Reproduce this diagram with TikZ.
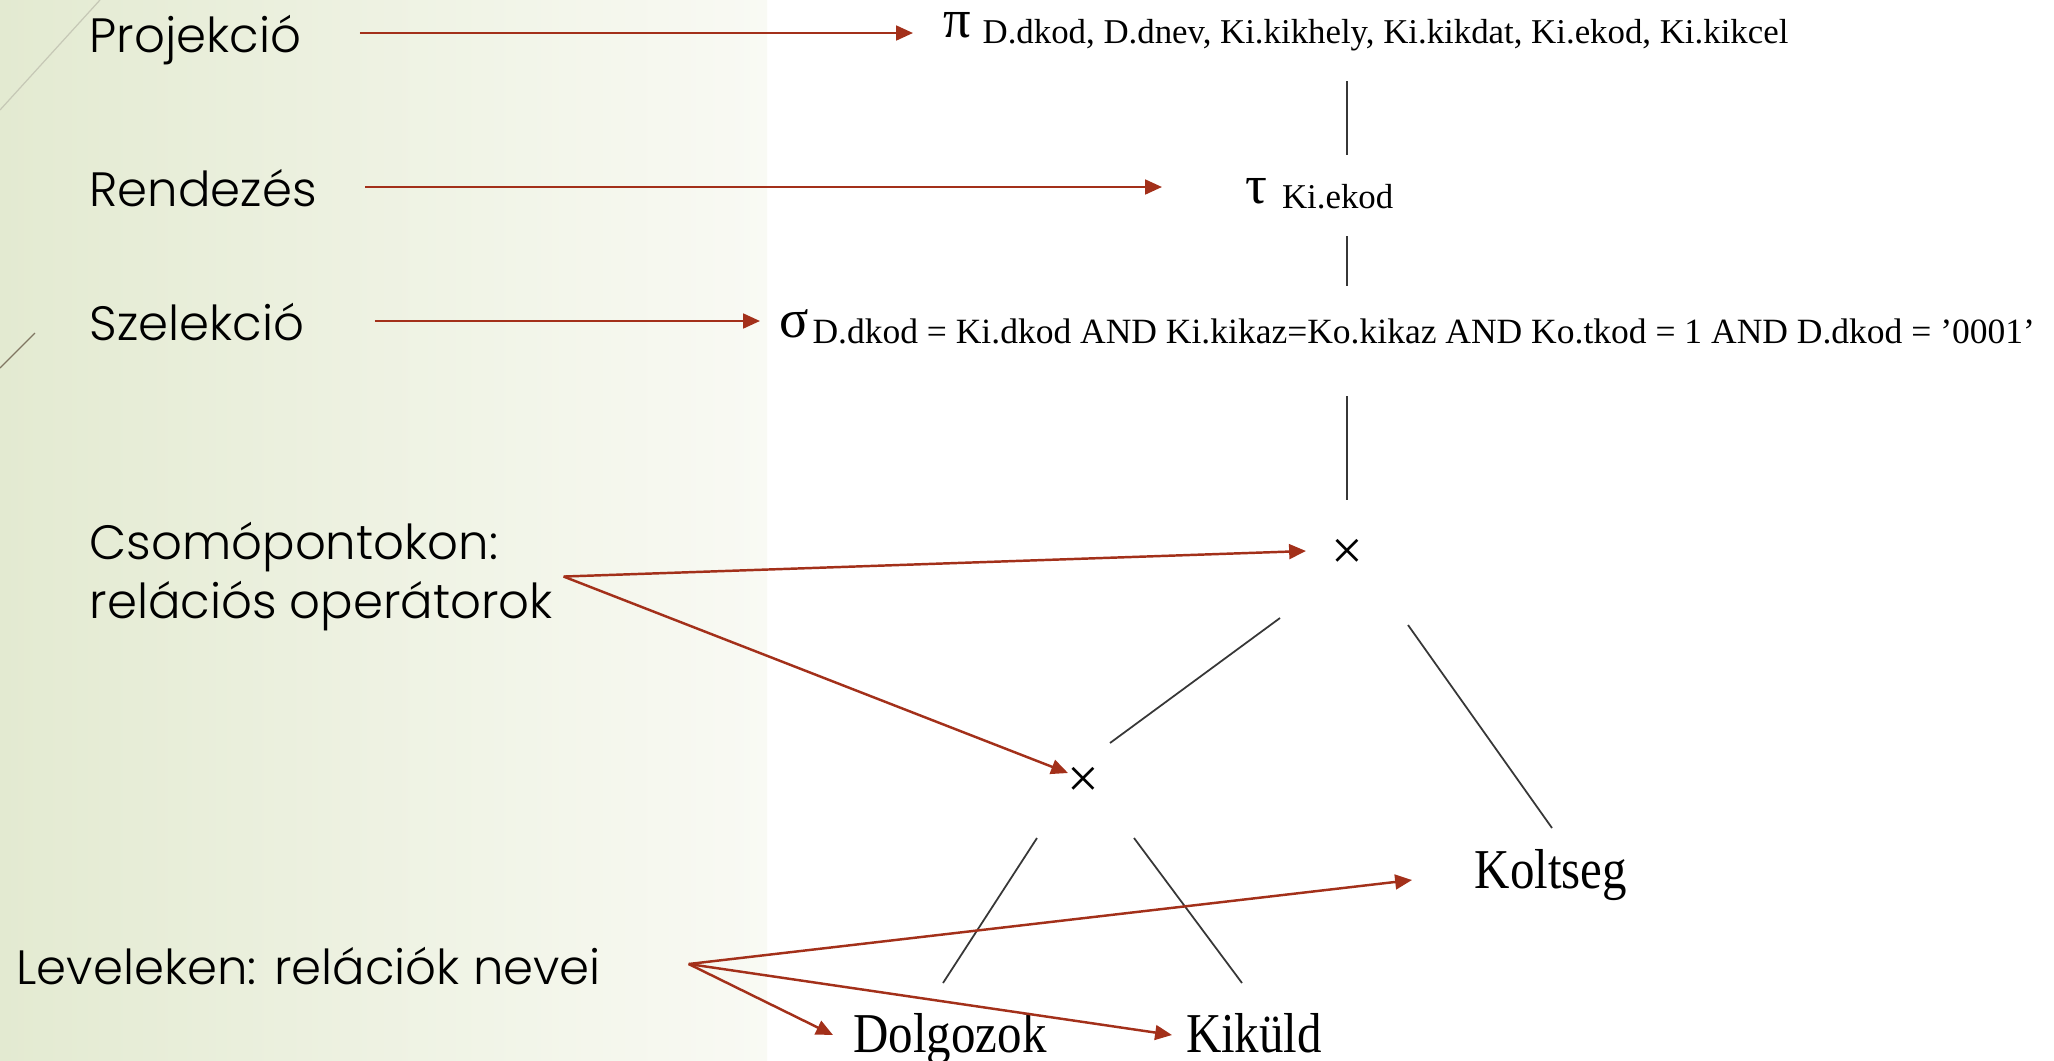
\documentclass[tikz,border=0pt]{standalone}
\usepackage{fontspec}
\usetikzlibrary{arrows.meta,calc}
\IfFontExistsTF{Poppins Light}%
  {\newfontfamily\notefont{Poppins Light}}%
  {\newfontfamily\notefont{Poppins}}
\newfontfamily\relfont[FakeStretch=0.87]{Liberation Serif}
\newfontfamily\serfont{Liberation Serif}
\definecolor{bgleft}{RGB}{227,234,209}
\definecolor{bgright}{RGB}{249,250,244}
\definecolor{hintred}{RGB}{163,48,26}
\definecolor{treegray}{RGB}{55,55,55}
\tikzset{%
  note/.style={
    font=\notefont\fontsize{13.7}{16.5}\selectfont,
    inner sep=0pt,
    anchor=base west,
    align=left
  },
  opsym/.style={
    font=\serfont\fontsize{15.5}{15.5}\selectfont,
    inner sep=0pt,
    text height=1.1ex,
    anchor=base west
  },
  opsub/.style={
    font=\serfont\fontsize{9.9}{10}\selectfont,
    inner sep=0pt,
    anchor=base west
  },
  cross/.style={
    font=\serfont\fontsize{16}{16}\selectfont,
    inner sep=0pt
  },
  relname/.style={
    font=\relfont\fontsize{16}{16}\selectfont,
    inner sep=0pt,
    anchor=base
  },
  treeline/.style={draw=treegray, line width=0.5pt},
  hint/.style={->, draw=hintred, fill=hintred, line width=0.7pt},
  deco/.style={line width=0.35pt},
}

\begin{document}
\begin{tikzpicture}[x=0.01cm, y=-0.01cm, >={Triangle[length=4.8pt,width=4.2pt]}]
\useasboundingbox (0,0) rectangle (2054,1060);
% background
\fill[white] (0,0) rectangle (2054,1060);
\shade[left color=bgleft, right color=bgright] (0,0) rectangle (767,1060);
\draw[deco, draw={rgb,255:red,198;green,200;blue,182}] (100,0) -- (0,110);
\draw[deco, draw={rgb,255:red,128;green,118;blue,98}] (35,333) -- (0,368);

% left side notes
\node[note] (projlbl) at (89,52) {Projekció};
\node[note] (rendlbl) at (89,206) {Rendezés};
\node[note] (szellbl) at (89,340) {Szelekció};
\node[note] (csomlbl) at (89,618) {Csomópontokon:\\relációs operátorok};
\node[note] (levlbl) at (16,984) {Leveleken: relációk nevei};

% operator tree
\node[opsym] (pisym) at (943,37) {π};
\node[opsub] (pisub) at ($(pisym.base east)+(10,6)$) {D.dkod, D.dnev, Ki.kikhely, Ki.kikdat, Ki.ekod, Ki.kikcel};
\node[opsym] (tausym) at (1245,203) {τ};
\node[opsub] (tausub) at ($(tausym.base east)+(13,5)$) {Ki.ekod};
\node[opsym] (sigsym) at (779,337) {σ};
\node[opsub, font=\serfont\fontsize{10.1}{10}\selectfont] (sigsub) at ($(sigsym.base east)+(2,6)$) {D.dkod = Ki.dkod AND Ki.kikaz=Ko.kikaz AND Ko.tkod = 1 AND D.dkod = ’0001’};
\node[cross] (xtop) at (1347,554) {×};
\node[cross] (xlow) at (1083,782) {×};
\node[relname] (koltseg) at (1551,888) {Koltseg};
\node[relname] (dolgozok) at (950,1052) {Dolgozok};
\node[relname] (kikuld) at (1254,1052) {Kiküld};

\draw[treeline] ($(pisym.base -| xtop)+(0,44)$) -- ($(tausym.base -| xtop)+(0,-48)$);
\draw[treeline] ($(tausym.base -| xtop)+(0,33)$) -- ($(sigsym.base -| xtop)+(0,-51)$);
\draw[treeline] ($(sigsym.base -| xtop)+(0,59)$) -- ($(xtop)+(0,-54)$);
\draw[treeline] ($(xtop)+(-67,64)$) -- ($(xlow)+(27,-39)$);
\draw[treeline] ($(xtop)+(61,71)$) -- ($(koltseg.base)+(1,-60)$);
\draw[treeline] ($(xlow)+(-46,56)$) -- ($(dolgozok.base)+(-7,-69)$);
\draw[treeline] ($(xlow)+(51,56)$) -- ($(kikuld.base)+(-12,-69)$);

% arrows from the notes
\draw[hint] ($(projlbl.base east)+(58,-19)$) -- ($(pisym.base west)+(-30,-4)$);
\draw[hint] ($(rendlbl.base east)+(48,-19)$) -- ($(tausym.base west)+(-83,-16)$);
\draw[hint] ($(szellbl.base east)+(70,-19)$) -- ($(sigsym.base west)+(-19,-16)$);
\coordinate (csomfork) at ($(csomlbl.east)+(10,0)$);
\draw[hint] (csomfork) -- ($(xtop)+(-41,-3)$);
\draw[hint] (csomfork) -- ($(xlow)+(-15,-9)$);
\coordinate (levfork) at ($(levlbl.base east)+(87,-20)$);
\draw[hint] (levfork) -- ($(koltseg.base)+(-139,-8)$);
\draw[hint] (levfork) -- ($(dolgozok.base)+(-117,-17)$);
\draw[hint] (levfork) -- ($(kikuld.base)+(-82,-17)$);
\end{tikzpicture}
\end{document}
